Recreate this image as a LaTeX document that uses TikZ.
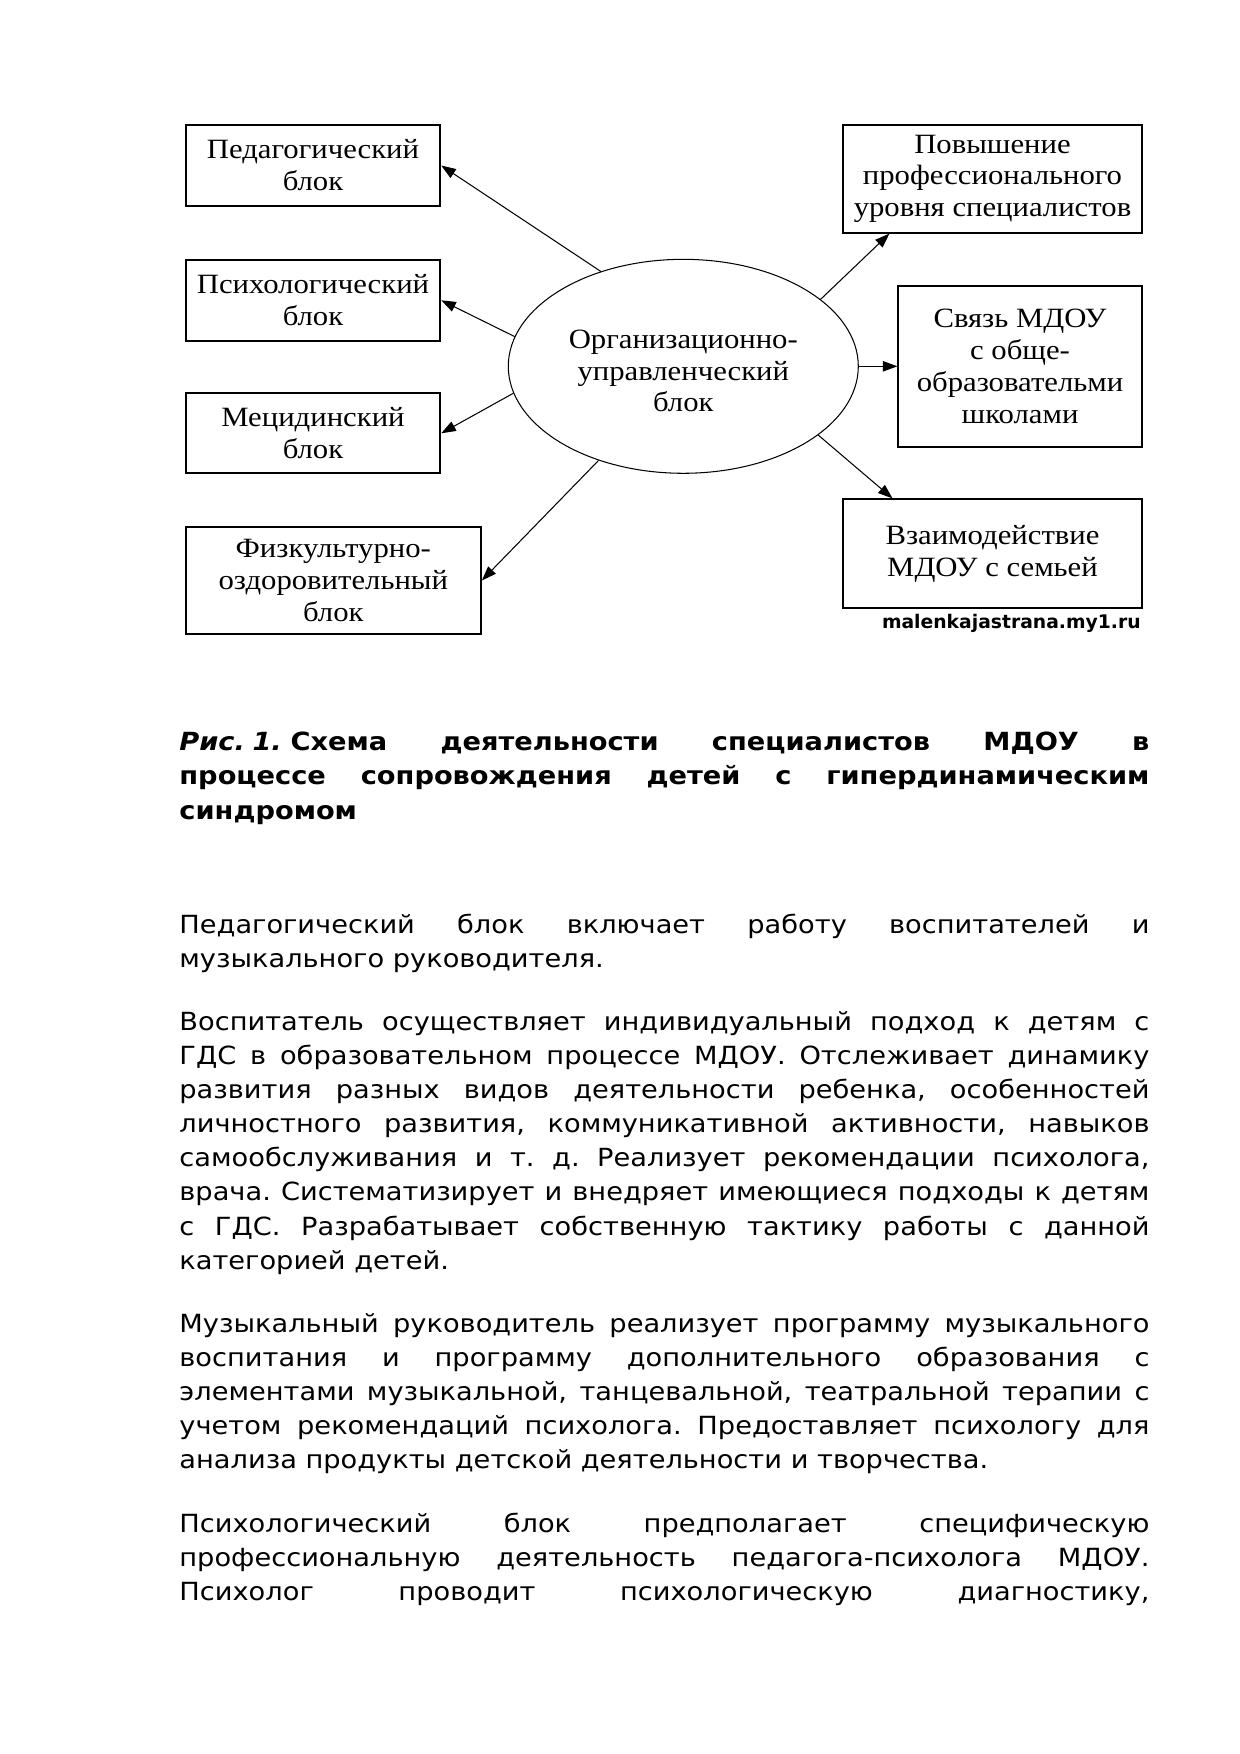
\documentclass[tikz,border=0pt]{standalone}
\usepackage{fontspec}
\setmainfont{DejaVu Sans}[FakeStretch=1.09]
\newfontfamily\schemefont{Liberation Serif}[FakeStretch=1.1]
\newfontfamily\wmfont{DejaVu Sans}
\usetikzlibrary{shapes.geometric,arrows.meta,calc}
\tikzset{
  blok/.style={draw,line width=0.9pt,inner sep=0pt,align=center,font=\schemefont\fontsize{13.4}{15.3}\selectfont},
  orgblok/.style={draw,ellipse,line width=0.5pt,minimum width=168pt,minimum height=102.7pt,inner sep=0pt},
  strelka/.style={-{Triangle[length=7pt,width=5pt]},line width=0.5pt},
  abzac/.style={anchor=base west,inner sep=0pt,text width=465.6pt,align=justify,
    font=\fontsize{12}{16.4}\selectfont,
    execute at begin node={\hyphenpenalty=10000 \exhyphenpenalty=10000 \frenchspacing}},
}

\begin{document}
\begin{tikzpicture}[x=0.48pt,y=-0.48pt]
\useasboundingbox[fill=white] (0,0) rectangle (1240,1754);

\node[orgblok] (org) at (683.3,366.3) {};
\node[font=\schemefont\fontsize{13.4}{15.3}\selectfont,align=center,inner sep=0pt] (orgtext) at (683.3,371) {Организационно-\\управленческий\\блок};

\node[blok,minimum width=122.2pt,minimum height=38.9pt] (ped) at (313,165.5) {Педагогический\\блок};
\node[blok,minimum width=122.2pt,minimum height=38.7pt] (psych) at (313,300.3) {Психологический\\блок};
\node[blok,minimum width=122.2pt,minimum height=38.4pt] (med) at (313,433.3) {Мецидинский\\блок};
\node[blok,minimum width=141.7pt,minimum height=51.7pt] (phys) at (333.3,580.5) {Физкультурно-\\оздоровительный\\блок};

\node[blok,minimum width=143.2pt,minimum height=51.7pt] (pov) at (992.5,178.8) {Повышение\\профессионального\\уровня специалистов};
\node[blok,minimum width=116.8pt,minimum height=77.1pt] (svyaz) at (1020,366.3) {Связь МДОУ\\с обще-\\образовательми\\школами};
\node[blok,minimum width=143.2pt,minimum height=52.3pt] (vzaim) at (992.5,553.8) {Взаимодействие\\МДОУ с семьей};
\node[font=\wmfont\bfseries\fontsize{9}{9}\selectfont,inner sep=0pt] (wm) at (1011.3,623.3) {malenkajastrana.my1.ru};

\draw[strelka] (org.131.4) -- (ped.east);
\draw[strelka] (org.170.1) -- (psych.east);
\draw[strelka] (org.189.6) -- (med.east);
\draw[strelka] (org.228.9) -- (phys.east);
\draw[strelka] (org.26.4) -- (pov.208);
\draw[strelka] (org.east) -- (svyaz.west);
\draw[strelka] (org.333.3) -- (vzaim.151.5);

\node[abzac,font=\bfseries\fontsize{12}{16.6}\selectfont] (podpis) at (179,750) {\textit{Рис.\hspace{0.3em}1.}\hspace{0.35em}Схема деятельности специалистов МДОУ в\linebreak процессе сопровождения детей с гипердинамическим\linebreak синдромом};

\node[abzac] (abz1) at (179,933) {Педагогический блок включает работу воспитателей и\linebreak музыкального руководителя.};
\node[abzac] (abz2) at (179,1030) {Воспитатель осуществляет индивидуальный подход к детям с\linebreak ГДС в образовательном процессе МДОУ. Отслеживает динамику\linebreak развития разных видов деятельности ребенка, особенностей\linebreak личностного развития, коммуникативной активности, навыков\linebreak самообслуживания и т.~д. Реализует рекомендации психолога,\linebreak врача. Систематизирует и внедряет имеющиеся подходы к детям\linebreak с ГДС. Разрабатывает собственную тактику работы с данной\linebreak категорией детей.};
\node[abzac] (abz3) at (179,1332) {Музыкальный руководитель реализует программу музыкального\linebreak воспитания и программу дополнительного образования с\linebreak элементами музыкальной, танцевальной, театральной терапии с\linebreak учетом рекомендаций психолога. Предоставляет психологу для\linebreak анализа продукты детской деятельности и творчества.};
\node[abzac] (abz4) at (179,1532) {\parfillskip=0pt Психологический блок предполагает специфическую\linebreak профессиональную деятельность педагога-психолога МДОУ.\linebreak Психолог проводит психологическую диагностику,\par};
\end{tikzpicture}
\end{document}
